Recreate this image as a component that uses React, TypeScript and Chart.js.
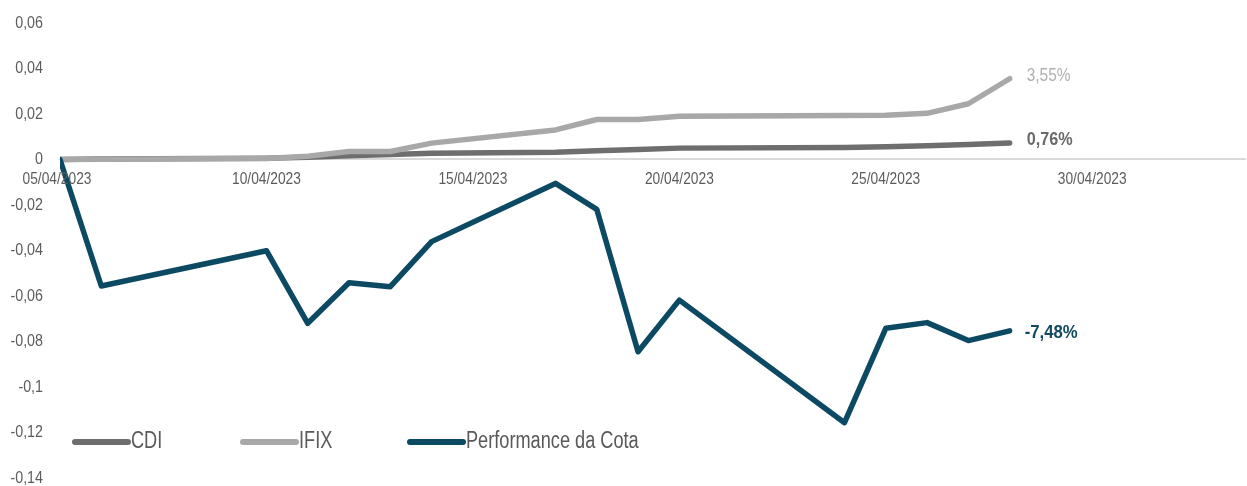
import React, { useEffect, useRef } from "react";
import { Chart, registerables } from "chart.js";

Chart.register(...registerables);

// Day of April 2023 for each observation
const days = [5, 6, 10, 11, 12, 13, 14, 17, 18, 19, 20, 24, 25, 26, 27, 28];
const cdi = [0, 0.0002, 0.0006, 0.001, 0.0016, 0.0022, 0.0027, 0.0032, 0.0038, 0.0044, 0.005, 0.0053, 0.0056, 0.006, 0.0066, 0.0073];
const ifix = [0, 0.0001, 0.0004, 0.0014, 0.0035, 0.0035, 0.0072, 0.013, 0.0176, 0.0176, 0.019, 0.0193, 0.0195, 0.0203, 0.0245, 0.0355];
const cota = [0, -0.0556, -0.0401, -0.072, -0.0542, -0.0559, -0.0361, -0.0105, -0.0219, -0.0845, -0.0618, -0.1157, -0.0742, -0.0717, -0.0796, -0.0753];
const seriesNames = ["CDI", "IFIX", "Performance da Cota"];
const endLabels = ["0,76%", "3,55%", "-7,48%"];
const yTicks = [0.06, 0.04, 0.02, 0, -0.02, -0.04, -0.06, -0.08, -0.1, -0.12, -0.14];
const xTickDays = [5, 10, 15, 20, 25, 30];

const COLORS = ["#6e6e6e", "#a8a8a8", "#0c4a63"];
const LABEL_COLORS = ["#6a6a6a", "#b0b0b0", "#124a62"];
const FONT = "'Liberation Sans', Arial, sans-serif";
const TICK_COLOR = "#5c5c5c";

const fmtNum = (v: number) => {
  const r = Math.round(v * 100) / 100;
  return String(r).replace(".", ",");
};
const fmtDay = (d: number) => `${String(d).padStart(2, "0")}/04/2023`;

// draw horizontally condensed text (narrow typeface look)
const narrowText = (ctx: any, text: string, x: number, y: number, align: string, sx: number) => {
  ctx.save();
  ctx.translate(x, y);
  ctx.scale(sx, 1);
  ctx.textAlign = align;
  ctx.textBaseline = "middle";
  ctx.fillText(text, 0, 0);
  ctx.restore();
};

const overlayPlugin = {
  id: "overlay",
  afterDraw(chart: any) {
    const ctx = chart.ctx;
    const xs = chart.scales.x;
    const ys = chart.scales.y;
    ctx.save();
    // axis tick labels
    ctx.font = `17px ${FONT}`;
    ctx.fillStyle = TICK_COLOR;
    const zeroY = ys.getPixelForValue(0);
    xs.ticks.forEach((t: any, i: number) => {
      const shift = i === 0 ? -3 : 0;
      narrowText(ctx, fmtDay(t.value), xs.getPixelForValue(t.value) + shift, zeroY + 20, "center", 0.81);
    });
    ys.ticks.forEach((t: any) => {
      narrowText(ctx, fmtNum(t.value), ys.right - 17, ys.getPixelForValue(t.value), "right", 0.84);
    });
    // end labels
    const weights = ["bold", "normal", "bold"];
    const sxs = [0.9, 0.86, 0.93];
    const dys = [-3, -3, 2.5];
    const dxs = [17, 17, 15];
    chart.data.datasets.forEach((ds: any, i: number) => {
      const meta = chart.getDatasetMeta(i);
      const pt = meta.data[meta.data.length - 1];
      ctx.font = `${weights[i]} 18px ${FONT}`;
      ctx.fillStyle = LABEL_COLORS[i];
      narrowText(ctx, endLabels[i], pt.x + dxs[i], pt.y + dys[i], "left", sxs[i]);
    });
    // legend
    const starts = [75, 243, 410];
    const y = 442;
    ctx.font = `23px ${FONT}`;
    seriesNames.forEach((name, i) => {
      const x = starts[i];
      ctx.strokeStyle = COLORS[i];
      ctx.lineWidth = 6;
      ctx.lineCap = "round";
      ctx.beginPath();
      ctx.moveTo(x, y);
      ctx.lineTo(x + 53, y);
      ctx.stroke();
      ctx.fillStyle = "#595959";
      narrowText(ctx, name, x + 56, y, "left", 0.79);
    });
    ctx.restore();
  },
};

export default function App() {
  const ref = useRef<HTMLCanvasElement | null>(null);
  useEffect(() => {
    if (!ref.current) return;
    const mk = (vals: number[]) => days.map((d, i) => ({ x: d, y: vals[i] }));
    const all = [cdi, ifix, cota];
    const chart = new Chart(ref.current, {
      type: "line",
      data: {
        datasets: all.map((vals, i) => ({
          label: seriesNames[i],
          data: mk(vals),
          borderColor: COLORS[i],
          backgroundColor: COLORS[i],
          borderWidth: 5.5,
          pointRadius: 0,
          borderCapStyle: "round",
          borderJoinStyle: "round",
          tension: 0,
          order: 2 - i,
        })),
      },
      options: {
        animation: false,
        responsive: true,
        maintainAspectRatio: false,
        layout: { padding: { left: 0, right: 2, top: 23, bottom: 8 } },
        plugins: { legend: { display: false }, tooltip: { enabled: false } },
        scales: {
          x: {
            type: "linear",
            position: { y: 0 } as any,
            min: 5,
            max: 33.7,
            afterBuildTicks: (s: any) => {
              s.ticks = xTickDays.map((v) => ({ value: v }));
            },
            ticks: { display: false },
            grid: { display: false, drawTicks: false },
            border: { display: true, color: "#d9d9d9", width: 2 },
          },
          y: {
            type: "linear",
            position: "left",
            min: -0.14,
            max: 0.06,
            afterBuildTicks: (s: any) => {
              s.ticks = yTicks.map((v) => ({ value: v }));
            },
            afterFit: (s: any) => {
              s.width = 60;
              s.paddingTop = 0;
              s.paddingBottom = 0;
            },
            ticks: { display: false },
            grid: { display: false, drawTicks: false },
            border: { display: false },
          },
        },
      },
      plugins: [overlayPlugin],
    } as any);
    return () => chart.destroy();
  }, []);
  return (
    <div style={{ position: "fixed", left: 0, top: 0, width: 1247, height: 486, background: "#fff" }}>
      <canvas ref={ref} />
    </div>
  );
}
